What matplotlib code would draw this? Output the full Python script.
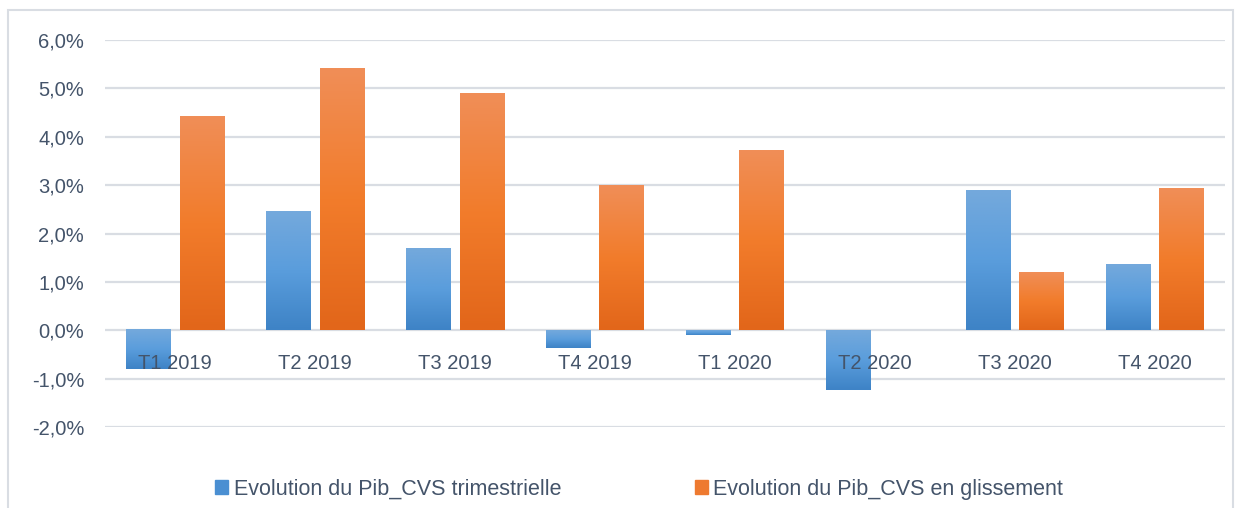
import numpy as np
import matplotlib.pyplot as plt
from matplotlib.patches import Rectangle
from matplotlib.colors import LinearSegmentedColormap
from matplotlib.ticker import FuncFormatter

plt.rcParams['font.family'] = ['Liberation Sans', 'DejaVu Sans']

categories = ['T1 2019', 'T2 2019', 'T3 2019', 'T4 2019',
              'T1 2020', 'T2 2020', 'T3 2020', 'T4 2020']
trimestrielle = [-0.81, 2.44, 1.68, -0.37, -0.10, -1.24, 2.88, 1.35]
glissement = [4.41, 5.40, 4.89, 2.98, 3.71, 0.0, 1.18, 2.92]
labels = ['Evolution du Pib_CVS trimestrielle', 'Evolution du Pib_CVS en glissement']

text_col = '#44546a'
grid_col = '#d9dde3'

fig = plt.figure(figsize=(12.41, 5.08), dpi=100)
ax = fig.add_axes([0.0846, 0.1594, 0.9024, 0.7619])

x = np.arange(len(categories))
w = 0.315
off = 0.19

blue_cmap = LinearSegmentedColormap.from_list('b', ['#3e83c6', '#5a9ddc', '#74a9dc'])
orange_cmap = LinearSegmentedColormap.from_list('o', ['#e2661a', '#f27c2b', '#f08e57'])
grad = np.linspace(0, 1, 100).reshape(-1, 1)


def gradient_bars(bars, cmap):
    for b in bars:
        h = b.get_height()
        if h == 0:
            continue
        x0 = b.get_x()
        y0 = b.get_y()
        lo, hi = min(y0, y0 + h), max(y0, y0 + h)
        ax.imshow(grad, cmap=cmap, aspect='auto', origin='lower',
                  extent=(x0, x0 + b.get_width(), lo, hi), zorder=1)


b1 = ax.bar(x - off, trimestrielle, w, color='#5b9bd5', label=labels[0], zorder=1)
b2 = ax.bar(x + off, glissement, w, color='#ed7d31', label=labels[1], zorder=1)
gradient_bars(b1, blue_cmap)
gradient_bars(b2, orange_cmap)

yt = np.arange(-2, 7, 1)
for v in yt:
    ax.axhline(v, color=grid_col, lw=1.6, zorder=0)

ax.set_xlim(-0.5, len(categories) - 0.5)
ax.set_ylim(-2, 6)
ax.set_yticks(yt)
ax.yaxis.set_major_formatter(FuncFormatter(lambda v, p: f'{v:.1f}%'.replace('.', ',')))
ax.set_xticks(x)
ax.set_xticklabels(categories)
ax.spines['bottom'].set_position(('data', 0))
for s in ax.spines.values():
    s.set_visible(False)
ax.tick_params(axis='both', length=0, labelsize=14.5, labelcolor=text_col)
ax.tick_params(axis='x', pad=17)
ax.tick_params(axis='y', pad=15)
ax.set_axisbelow(False)

leg = fig.legend(handles=[b1, b2], labels=labels, loc='center', ncol=2,
                 bbox_to_anchor=(0.515, 0.037), frameon=False, fontsize=15.5,
                 handlelength=0.6, handleheight=0.6, handletextpad=0.25,
                 columnspacing=6.2)
for t in leg.get_texts():
    t.set_color(text_col)
leg.legend_handles[0].set_color('#4a8fd2')
leg.legend_handles[1].set_color('#ee7a30')

fig.patches.append(Rectangle((8 / 1241, -0.02), 1225 / 1241, 0.9996 - 10 / 508 + 0.02,
                             transform=fig.transFigure, fill=False,
                             edgecolor=grid_col, lw=1.5))

fig.savefig('out.png', dpi=100)
